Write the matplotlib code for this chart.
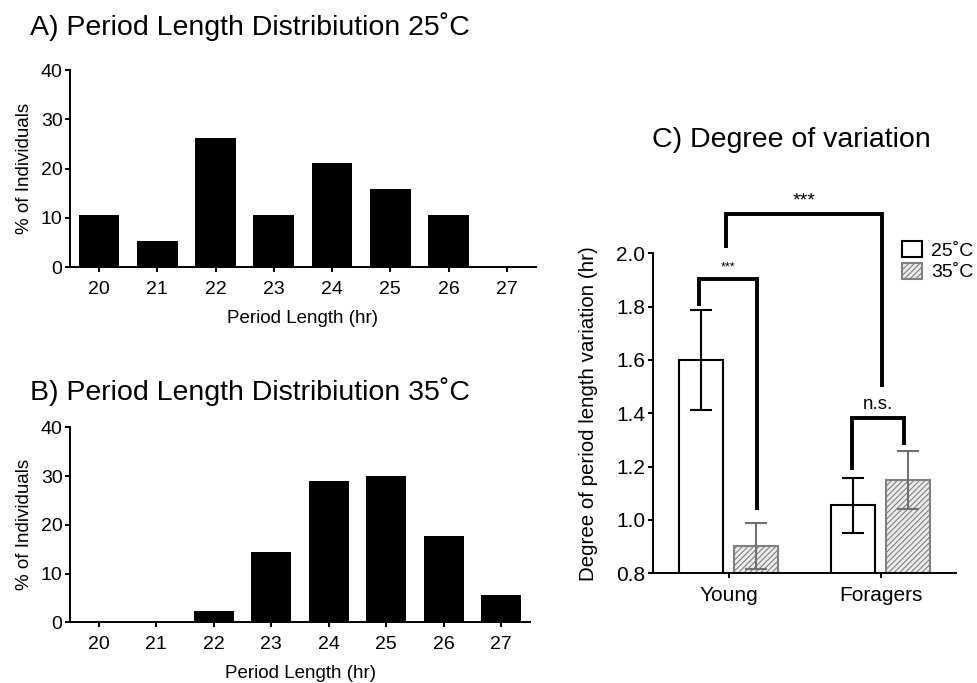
import matplotlib
matplotlib.use("Agg")
import matplotlib.pyplot as plt
from matplotlib.patches import Patch
import numpy as np

plt.rcParams['font.family'] = ['Liberation Sans', 'DejaVu Sans']
plt.rcParams['hatch.linewidth'] = 0.8

# Period length histograms (% of individuals per hour bin)
period_hours = [20, 21, 22, 23, 24, 25, 26, 27]
pct_25C = [10.5, 5.3, 26.3, 10.5, 21.1, 15.8, 10.5, 0.0]
pct_35C = [0.0, 0.0, 2.3, 14.5, 29.0, 30.0, 17.8, 5.6]

# Degree of period length variation (mean +/- error)
groups = ["Young", "Foragers"]
var_25C = [1.60, 1.055]
err_25C = [0.186, 0.103]
var_35C = [0.903, 1.15]
err_35C = [0.085, 0.107]

fig = plt.figure(figsize=(9.77, 6.83), dpi=100)

SPINE_W = 1.4


def style_axes(ax, fs):
    for side in ("top", "right"):
        ax.spines[side].set_visible(False)
    for side in ("left", "bottom"):
        ax.spines[side].set_linewidth(SPINE_W)
    ax.tick_params(direction="out", length=3.8, width=SPINE_W, labelsize=fs)
    ax.tick_params(axis="y", pad=1.5)
    ax.tick_params(axis="x", pad=5)


def histogram(rect, values, title, title_y):
    ax = fig.add_axes(rect)
    ax.bar(period_hours, values, width=0.7, color="black")
    ax.set_xlim(19.5, 27.5)
    ax.set_ylim(0, 40)
    ax.set_xticks(period_hours)
    ax.set_yticks([0, 10, 20, 30, 40])
    style_axes(ax, 14)
    ax.tick_params(axis="x", pad=6)
    ax.set_xlabel("Period Length (hr)", fontsize=13.5)
    ax.set_ylabel("% of Individuals", fontsize=13.5)
    ax.xaxis.set_label_coords(0.5, -0.22)
    ax.yaxis.set_label_coords(-0.08, 0.5)
    fig.text(0.0307, title_y, title, fontsize=20.5, ha="left", va="baseline")
    return ax


ax_a = histogram([0.0716, 0.609, 0.477, 0.2884], pct_25C,
                 "A) Period Length Distribiution 25˚C", 0.9488)
ax_b = histogram([0.0716, 0.0889, 0.471, 0.2855], pct_35C,
                 "B) Period Length Distribiution 35˚C", 0.4143)

# Panel C: grouped bars with error bars and significance brackets
ax_c = fig.add_axes([0.668, 0.1606, 0.311, 0.4685])
x = np.arange(len(groups))
off, w = 0.18, 0.29
ax_c.bar(x - off, var_25C, width=w, color="white", edgecolor="black", linewidth=1.5)
ax_c.bar(x + off, var_35C, width=w, color="#ececec", edgecolor="#808080",
         linewidth=1.5, hatch="//////")
ax_c.errorbar(x - off, var_25C, yerr=err_25C, fmt="none", ecolor="black",
              elinewidth=1.5, capsize=8, capthick=1.5)
ax_c.errorbar(x + off, var_35C, yerr=err_35C, fmt="none", ecolor="#707070",
              elinewidth=1.5, capsize=8, capthick=1.5)
ax_c.set_xlim(-0.5, 1.5)
ax_c.set_ylim(0.8, 2.0)
ax_c.set_xticks(x)
ax_c.set_xticklabels(groups)
ax_c.set_yticks(np.arange(0.8, 2.01, 0.2))
ax_c.yaxis.set_major_formatter(matplotlib.ticker.FormatStrFormatter("%.1f"))
style_axes(ax_c, 15)
ax_c.set_ylabel("Degree of period length variation (hr)", fontsize=14.8)
ax_c.yaxis.set_label_coords(-0.18, 0.5)
fig.text(0.667, 0.7848, "C) Degree of variation", fontsize=20.5, ha="left", va="baseline")


def bracket(x0, y0, x1, y1, ytop, label, fs, lw=2.8):
    ax_c.plot([x0, x0, x1, x1], [y0, ytop, ytop, y1], color="black", lw=lw,
              clip_on=False, solid_joinstyle="miter", solid_capstyle="butt")
    ax_c.text((x0 + x1) / 2, ytop + 0.02, label, ha="center", va="bottom", fontsize=fs)


bracket(-0.195, 1.802, 0.184, 1.038, 1.903, "***", 9)
bracket(-0.018, 2.02, 1.007, 1.50, 2.146, "***", 14)
bracket(0.811, 1.187, 1.153, 1.281, 1.381, "n.s.", 13.5)

handles = [Patch(facecolor="white", edgecolor="black", linewidth=1.5),
           Patch(facecolor="#ececec", edgecolor="#808080", linewidth=1.5, hatch="//////")]
ax_c.legend(handles, ["25˚C", "35˚C"], loc="upper left",
            bbox_to_anchor=(902 / 977, 1 - 241 / 683), bbox_transform=fig.transFigure,
            frameon=False, fontsize=14, borderpad=0, borderaxespad=0,
            handlelength=1.05, handleheight=0.9, handletextpad=0.45, labelspacing=0.15)

fig.savefig("out.png", dpi=100)
